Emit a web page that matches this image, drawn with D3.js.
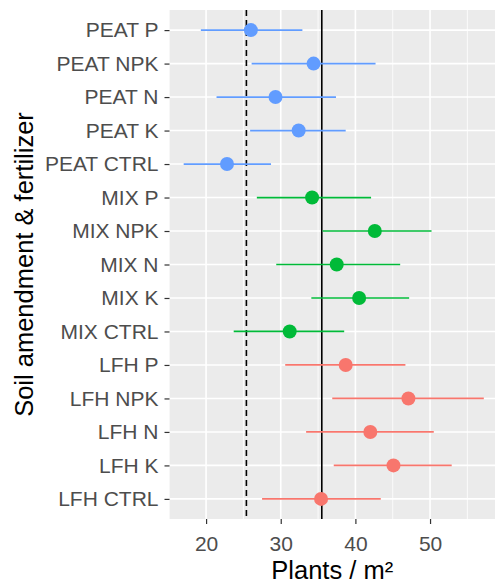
<!DOCTYPE html>
<html>
<head>
<meta charset="utf-8">
<script src="https://cdn.jsdelivr.net/npm/d3@7"></script>
<style>
  body { margin: 0; background: #fff; }
  svg { display: block; font-family: "Liberation Sans", Arial, sans-serif; }
</style>
</head>
<body>
<svg id="chart" width="495" height="583"></svg>
<script>
'use strict';

// treatments, top to bottom
const treatments = [
  'PEAT P', 'PEAT NPK', 'PEAT N', 'PEAT K', 'PEAT CTRL',
  'MIX P', 'MIX NPK', 'MIX N', 'MIX K', 'MIX CTRL',
  'LFH P', 'LFH NPK', 'LFH N', 'LFH K', 'LFH CTRL'
];
const amendment = [
  'PEAT', 'PEAT', 'PEAT', 'PEAT', 'PEAT',
  'MIX', 'MIX', 'MIX', 'MIX', 'MIX',
  'LFH', 'LFH', 'LFH', 'LFH', 'LFH'
];
const means = [26.0, 34.4, 29.3, 32.4, 22.8, 34.2, 42.6, 37.5, 40.5, 31.2, 38.7, 47.1, 42.0, 45.1, 35.4];
const lower = [19.3, 26.1, 21.4, 25.9, 17.0, 26.8, 35.6, 29.4, 34.1, 23.7, 30.6, 36.9, 33.4, 37.1, 27.5];
const upper = [32.9, 42.7, 37.4, 38.7, 28.7, 42.1, 50.2, 46.0, 47.2, 38.5, 46.7, 57.2, 50.5, 52.9, 43.4];
const xTicks = [20, 30, 40, 50];
const refDashed = 25.4;
const refSolid = 35.5;

const colors = { LFH: '#F8766D', MIX: '#00BA38', PEAT: '#619CFF' };

const svg = d3.select('#chart');
const panel = { left: 169.5, right: 495, top: 10, bottom: 519 };

const x = d3.scaleLinear().domain([15.1, 58.7]).range([panel.left, panel.right]);
const y = d3.scalePoint().domain(treatments).range([panel.top, panel.bottom]).padding(0.6);

// panel background
svg.append('rect')
  .attr('x', panel.left).attr('y', panel.top)
  .attr('width', panel.right - panel.left).attr('height', panel.bottom - panel.top)
  .attr('fill', '#EBEBEB');

// minor grid
const minor = d3.range(15, 59, 10);
svg.append('g').selectAll('line').data(minor).join('line')
  .attr('x1', d => x(d)).attr('x2', d => x(d))
  .attr('y1', panel.top).attr('y2', panel.bottom)
  .attr('stroke', '#fff').attr('stroke-width', 0.8);

// major grid
svg.append('g').selectAll('line').data(xTicks).join('line')
  .attr('x1', d => x(d)).attr('x2', d => x(d))
  .attr('y1', panel.top).attr('y2', panel.bottom)
  .attr('stroke', '#fff').attr('stroke-width', 1.6);
svg.append('g').selectAll('line').data(treatments).join('line')
  .attr('x1', panel.left).attr('x2', panel.right)
  .attr('y1', d => y(d)).attr('y2', d => y(d))
  .attr('stroke', '#fff').attr('stroke-width', 1.6);

// reference lines
svg.append('line')
  .attr('x1', x(refDashed)).attr('x2', x(refDashed))
  .attr('y1', panel.top).attr('y2', panel.bottom)
  .attr('stroke', '#000').attr('stroke-width', 1.6)
  .attr('stroke-dasharray', '6,4');
svg.append('line')
  .attr('x1', x(refSolid)).attr('x2', x(refSolid))
  .attr('y1', panel.top).attr('y2', panel.bottom)
  .attr('stroke', '#000').attr('stroke-width', 1.6);

// error bars
svg.append('g').selectAll('line').data(treatments).join('line')
  .attr('x1', (d, i) => x(lower[i])).attr('x2', (d, i) => x(upper[i]))
  .attr('y1', d => y(d)).attr('y2', d => y(d))
  .attr('stroke', (d, i) => colors[amendment[i]]).attr('stroke-width', 1.7);

// points
svg.append('g').selectAll('circle').data(treatments).join('circle')
  .attr('cx', (d, i) => x(means[i])).attr('cy', d => y(d))
  .attr('r', 7)
  .attr('fill', (d, i) => colors[amendment[i]]);

// axes
const xAxis = svg.append('g')
  .attr('transform', `translate(0,${panel.bottom})`)
  .call(d3.axisBottom(x).tickValues(xTicks).tickSize(5).tickPadding(12));
const yAxis = svg.append('g')
  .attr('transform', `translate(${panel.left},0)`)
  .call(d3.axisLeft(y).tickSize(5).tickPadding(6));

[xAxis, yAxis].forEach(a => {
  a.select('.domain').remove();
  a.selectAll('.tick line').attr('stroke', '#333').attr('stroke-width', 1.2);
  a.selectAll('.tick text')
    .attr('fill', '#4D4D4D')
    .style('font-size', '21px')
    .style('font-family', '"Liberation Sans", Arial, sans-serif');
});

// axis titles
svg.append('text')
  .attr('x', (panel.left + panel.right) / 2).attr('y', 579)
  .attr('text-anchor', 'middle')
  .style('font-size', '25.5px')
  .text('Plants / m²');

svg.append('text')
  .attr('transform', `translate(33,${(panel.top + panel.bottom) / 2}) rotate(-90)`)
  .attr('text-anchor', 'middle')
  .style('font-size', '25.5px')
  .text('Soil amendment & fertilizer');
</script>
</body>
</html>
